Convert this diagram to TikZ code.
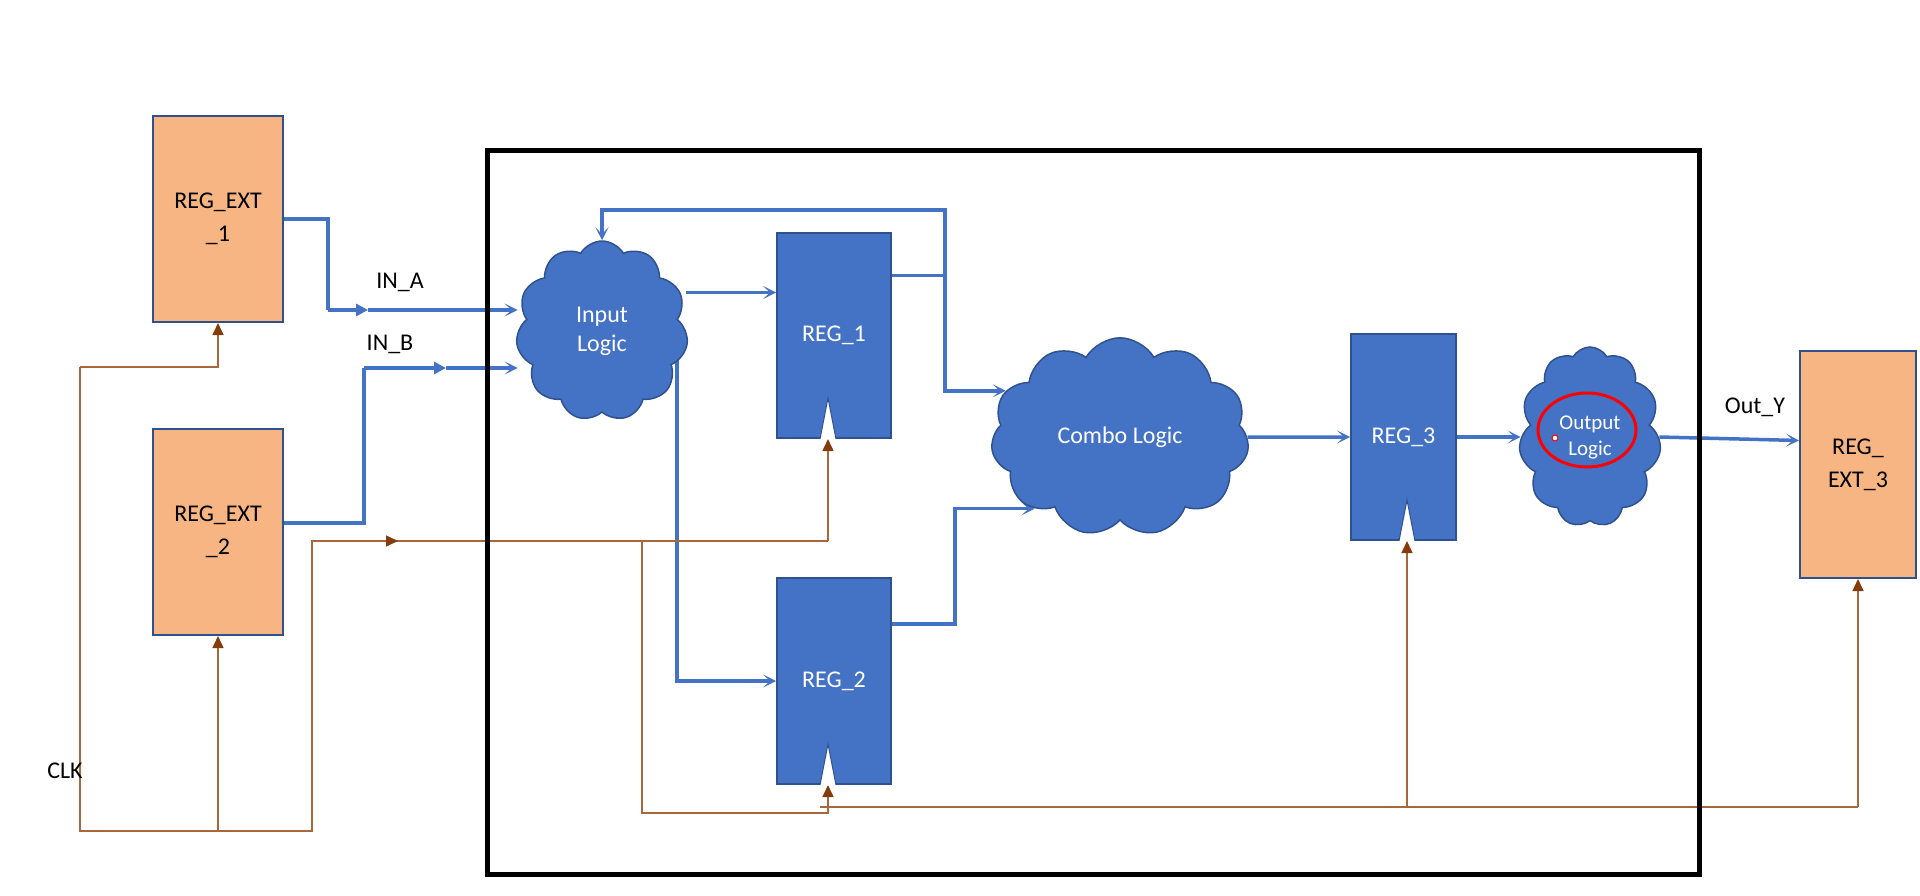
\documentclass[tikz,border=0pt]{standalone}
\usepackage{fontspec}
\setmainfont{Carlito}
\usetikzlibrary{shapes.symbols,arrows.meta,calc}
\pgfdeclarelayer{bg}
\pgfsetlayers{bg,main}
\definecolor{regblue}{HTML}{4472C4}
\definecolor{bordblue}{HTML}{2F528F}
\definecolor{extorange}{HTML}{F8B584}
\definecolor{wireblue}{HTML}{4472C4}
\definecolor{clkline}{HTML}{A8683C}
\definecolor{clkhead}{HTML}{843C0C}
\newcommand\clocktri[2]{\draw[draw=bordblue, fill=white, line width=1pt] ([xshift=#2-8pt]#1.south) -- ([xshift=#2, yshift=41pt]#1.south) -- ([xshift=#2+8pt]#1.south);}
\begin{document}
\begin{tikzpicture}[x=1pt,y=-1pt,
  extreg/.style={draw=bordblue, line width=2pt, fill=extorange, minimum width=130pt, minimum height=206pt, inner sep=0pt, align=center, font=\fontsize{24}{33}\selectfont},
  intreg/.style={draw=bordblue, line width=2pt, fill=regblue, inner sep=0pt, text=white, font=\fontsize{24}{29}\selectfont},
  logiccloud/.style={cloud, cloud puffs=11, cloud puff arc=120, draw=bordblue, line width=1.5pt, fill=regblue, text=white, align=center, inner sep=0pt, font=\fontsize{24}{29}\selectfont},
  lbl/.style={inner sep=0pt, font=\fontsize{24}{29}\selectfont},
  bw/.style={draw=wireblue, line width=3.5pt},
  barbend/.style={-{Stealth[length=13pt,width=13pt,inset=7pt]}},
  midtri/.style={-{Triangle[length=12pt,width=12pt]}},
  ck/.style={draw=clkline, line width=1.5pt},
  ckarrow/.style={-{Triangle[length=12pt,width=11pt,color=clkhead]}},
  ckmid/.style={-{Triangle[length=12pt,width=11pt,color=clkhead]}}
]
\useasboundingbox (0,0) rectangle (1920,896);

% nodes
\node[extreg] (e1) at (218,219) {REG\_EXT\\\_1};
\node[extreg] (e2) at (218,532) {REG\_EXT\\\_2};
\node[extreg, minimum width=116pt, minimum height=227pt] (e3) at (1858,464.5) {REG\_\\EXT\_3};
\node[intreg, minimum width=114pt, minimum height=205pt] (r1) at (834,335.5) {REG\_1};
\node[intreg, minimum width=114pt, minimum height=206pt] (r2) at (834,681) {REG\_2};
\node[intreg, minimum width=105pt, minimum height=206pt] (r3) at (1403.5,437) {REG\_3};
\node[logiccloud, minimum width=172pt, minimum height=180pt] (cIn) at (602,331) {Input\\Logic};
\node[logiccloud, minimum width=258pt, minimum height=182pt] (cCombo) at (1120,437) {Combo Logic};
\node[logiccloud, minimum width=142pt, minimum height=180pt, font=\fontsize{21}{26}\selectfont] (cOut) at (1590,437) {Output\\Logic};

\node[lbl] (lA) at (400,282) {IN\_A};
\node[lbl] (lB) at (390,344) {IN\_B};
\node[lbl] (lY) at (1755,407) {Out\_Y};
\node[lbl] (lC) at (65,771) {CLK};

% clock symbols
\clocktri{r1}{-6pt}
\clocktri{r2}{-6pt}
\clocktri{r3}{3.5pt}

% highlight on output logic
\draw[red, line width=3pt] (1587,430) ellipse [x radius=49, y radius=37];
\draw[red, fill=white, line width=1pt] (1555,438) circle [radius=3];

\coordinate (r1clk) at ([xshift=-6pt]r1.south);
\coordinate (r2clk) at ([xshift=-6pt]r2.south);
\coordinate (r3clk) at ([xshift=3.5pt]r3.south);
\coordinate (r1in) at ([yshift=43pt]r1.west);
\coordinate (r1o) at ([yshift=60pt]r1.east);
\coordinate (r2o) at ([yshift=57pt]r2.east);
\coordinate (e2o) at ([yshift=9pt]e2.east);
\coordinate (e3in) at ([yshift=24pt]e3.west);
\coordinate (ia1) at (328,310);
\coordinate (ia2) at (368,310);
\coordinate (ib1) at (364,368);
\coordinate (ib2) at (446,368);
\coordinate (fb) at (945,210);
\coordinate (fb2) at (955,210);
\coordinate (k0) at (80,367);
\coordinate (k1) at (80,831);
\coordinate (k2) at (312,831);
\coordinate (k3) at (312,541);
\coordinate (km) at (398,541);
\coordinate (kb) at (642,541);
\coordinate (kb2) at (642,813);
\coordinate (kr) at (820,807);

\begin{pgfonlayer}{bg}
% data wires
\draw[bw] (e1.east) -| (ia1);
\draw[bw, midtri] (ia1) -- (ia2);
\draw[bw, barbend] (ia2) -- (cIn.west |- ia2);
\draw[bw] (e2o) -| (ib1);
\draw[bw, midtri] (ib1) -- (ib2);
\draw[bw, barbend] (ib2) -- (cIn.west |- ib2);
\draw[bw, barbend] (cIn.east |- r1in) -- (r1in);
\draw[bw, barbend] (r1o) -| (fb) -| (cIn.north);
\draw[bw, barbend] (r1o -| fb) |- (cCombo.158);
\draw[bw, barbend] ([xshift=75pt]cIn.center) |- (r2.west);
\draw[bw, barbend] (r2o) -| (fb2 |- r2o) |- (cCombo.220);
\draw[bw, barbend] (cCombo.east) -- (r3.west);
\draw[bw, barbend] (r3.east) -- (cOut.west |- r3.east);
\draw[bw, barbend] (cOut.east) -- (e3in);
% clock wires
\draw[ck] (k0) -- (k1) -- (k2) -- (k3) -- (r1clk |- k3);
\draw[ck, ckarrow] (r1clk |- k3) -- (r1clk);
\draw[ck, ckmid] (k3) -- (km);
\draw[ck, ckarrow] (k0) -| (e1.south);
\draw[ck, ckarrow] (e2.south |- k1) -- (e2.south);
\draw[ck, ckarrow] (kb) -- (kb2) -| (r2clk);
\draw[ck] (kr) -- (e3.south |- kr);
\draw[ck, ckarrow] (e3.south |- kr) -- (e3.south);
\draw[ck, ckarrow] (r3clk |- kr) -- (r3clk);
\end{pgfonlayer}

% chip boundary
\draw[line width=5pt] (487,151) rectangle (1699,874);
\end{tikzpicture}
\end{document}
